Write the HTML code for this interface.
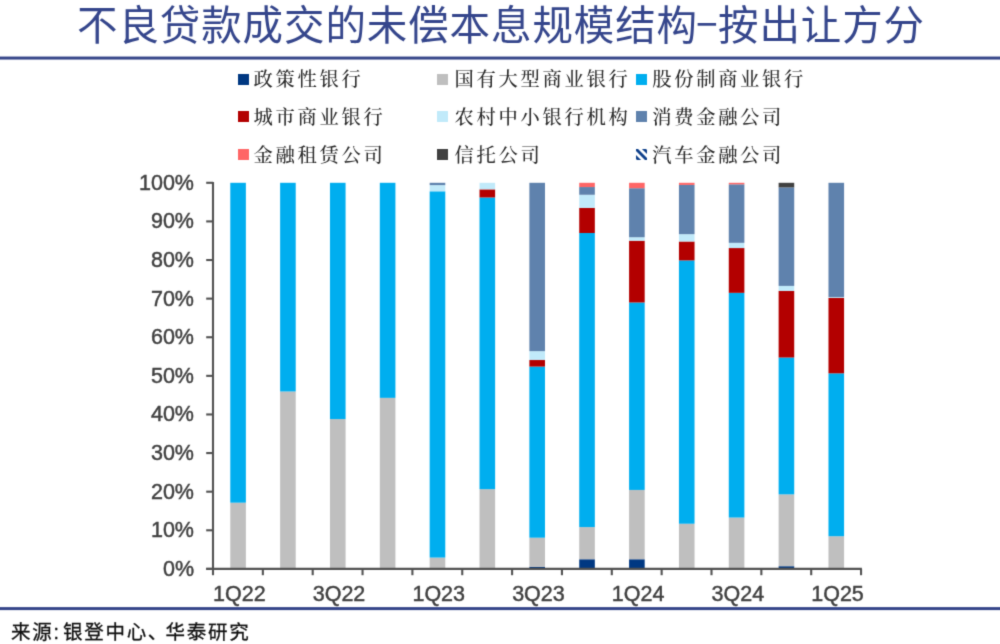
<!DOCTYPE html>
<html lang="zh-CN"><head><meta charset="utf-8"><title>不良贷款成交的未偿本息规模结构-按出让方分</title>
<style>
html,body{margin:0;padding:0;background:#fff;}
body{width:1000px;height:644px;position:relative;overflow:hidden;font-family:"Liberation Sans","Noto Sans CJK SC",sans-serif;}
#wrap{position:absolute;left:0;top:0;width:1000px;height:644px;filter:url(#soft);}
.title{position:absolute;left:0;top:-4.2px;width:1000px;height:60px;line-height:60px;text-align:center;white-space:nowrap;
 font-family:"Liberation Sans","Noto Sans CJK SC",sans-serif;font-weight:400;font-size:40.5px;color:#35468c;letter-spacing:0.9px;}
.dash{display:inline-block;width:20px;text-align:center;letter-spacing:0;font-family:"Liberation Sans",sans-serif;font-size:38px;position:relative;top:-2.6px;left:-2.2px;}
.sw{position:absolute;width:11px;height:11px;display:block;}
.lt{position:absolute;height:30px;line-height:30px;white-space:nowrap;font-family:"Liberation Serif","Noto Serif CJK SC",serif;font-weight:500;font-size:19.3px;letter-spacing:2.7px;color:#2b2b2b;}
.src{position:absolute;left:11px;top:616.6px;-webkit-text-stroke:0.3px #111;height:30px;line-height:30px;white-space:nowrap;font-family:"Liberation Sans","Noto Sans CJK SC",sans-serif;font-size:19.5px;letter-spacing:1.7px;color:#111;}
</style></head>
<body>
<div id="wrap">
<div class="title" style="padding-left:1px">不良贷款成交的未偿本息规模结构<span class="dash">−</span>按出让方分</div>
<svg width="1000" height="644" viewBox="0 0 1000 644" style="position:absolute;left:0;top:0;overflow:visible"><defs><filter id="soft" x="-2%" y="-2%" width="104%" height="104%" color-interpolation-filters="sRGB"><feConvolveMatrix order="3" kernelMatrix="0.01917 0.10012 0.01917 0.10012 0.52283 0.10012 0.01917 0.10012 0.01917" divisor="1" edgeMode="duplicate" preserveAlpha="false"/></filter></defs><rect x="-10" y="56.55" width="1020" height="3.0" fill="#36468a"/><rect x="-10" y="607.1" width="1020" height="3.0" fill="#36468a"/><rect x="230.28" y="502.68" width="15.6" height="66.22" fill="#bfbfbf"/><rect x="230.28" y="182.80" width="15.6" height="319.88" fill="#00aeef"/><rect x="280.12" y="391.49" width="15.6" height="177.41" fill="#bfbfbf"/><rect x="280.12" y="182.80" width="15.6" height="208.69" fill="#00aeef"/><rect x="329.97" y="419.09" width="15.6" height="149.81" fill="#bfbfbf"/><rect x="329.97" y="182.80" width="15.6" height="236.29" fill="#00aeef"/><rect x="379.82" y="397.86" width="15.6" height="171.04" fill="#bfbfbf"/><rect x="379.82" y="182.80" width="15.6" height="215.06" fill="#00aeef"/><rect x="429.68" y="557.59" width="15.6" height="11.31" fill="#bfbfbf"/><rect x="429.68" y="191.29" width="15.6" height="366.29" fill="#00aeef"/><rect x="429.68" y="185.12" width="15.6" height="6.18" fill="#c1eafa"/><rect x="429.68" y="182.80" width="15.6" height="2.32" fill="#5f82ad"/><rect x="479.52" y="489.17" width="15.6" height="79.73" fill="#bfbfbf"/><rect x="479.52" y="197.47" width="15.6" height="291.70" fill="#00aeef"/><rect x="479.52" y="189.36" width="15.6" height="8.11" fill="#b30000"/><rect x="479.52" y="182.80" width="15.6" height="6.56" fill="#c1eafa"/><rect x="529.38" y="566.78" width="15.6" height="2.12" fill="#003882"/><rect x="529.38" y="537.70" width="15.6" height="29.07" fill="#bfbfbf"/><rect x="529.38" y="366.58" width="15.6" height="171.12" fill="#00aeef"/><rect x="529.38" y="360.02" width="15.6" height="6.56" fill="#b30000"/><rect x="529.38" y="351.14" width="15.6" height="8.88" fill="#c1eafa"/><rect x="529.38" y="182.80" width="15.6" height="168.34" fill="#5f82ad"/><rect x="579.23" y="559.25" width="15.6" height="9.65" fill="#003882"/><rect x="579.23" y="527.09" width="15.6" height="32.16" fill="#bfbfbf"/><rect x="579.23" y="232.99" width="15.6" height="294.09" fill="#00aeef"/><rect x="579.23" y="207.90" width="15.6" height="25.10" fill="#b30000"/><rect x="579.23" y="194.77" width="15.6" height="13.13" fill="#c1eafa"/><rect x="579.23" y="187.05" width="15.6" height="7.72" fill="#5f82ad"/><rect x="579.23" y="182.80" width="15.6" height="4.25" fill="#ff6666"/><rect x="629.08" y="559.25" width="15.6" height="9.65" fill="#003882"/><rect x="629.08" y="489.94" width="15.6" height="69.30" fill="#bfbfbf"/><rect x="629.08" y="302.49" width="15.6" height="187.45" fill="#00aeef"/><rect x="629.08" y="240.71" width="15.6" height="61.78" fill="#b30000"/><rect x="629.08" y="237.24" width="15.6" height="3.47" fill="#c1eafa"/><rect x="629.08" y="188.21" width="15.6" height="49.03" fill="#5f82ad"/><rect x="629.08" y="182.80" width="15.6" height="5.41" fill="#ff6666"/><rect x="678.93" y="523.73" width="15.6" height="45.17" fill="#bfbfbf"/><rect x="678.93" y="260.41" width="15.6" height="263.32" fill="#00aeef"/><rect x="678.93" y="241.49" width="15.6" height="18.92" fill="#b30000"/><rect x="678.93" y="234.15" width="15.6" height="7.34" fill="#c1eafa"/><rect x="678.93" y="184.92" width="15.6" height="49.23" fill="#5f82ad"/><rect x="678.93" y="182.80" width="15.6" height="2.12" fill="#ff6666"/><rect x="728.78" y="517.55" width="15.6" height="51.35" fill="#bfbfbf"/><rect x="728.78" y="292.84" width="15.6" height="224.71" fill="#00aeef"/><rect x="728.78" y="248.05" width="15.6" height="44.79" fill="#b30000"/><rect x="728.78" y="242.84" width="15.6" height="5.21" fill="#c1eafa"/><rect x="728.78" y="184.34" width="15.6" height="58.49" fill="#5f82ad"/><rect x="728.78" y="182.80" width="15.6" height="1.54" fill="#ff6666"/><rect x="778.62" y="566.20" width="15.6" height="2.70" fill="#003882"/><rect x="778.62" y="494.38" width="15.6" height="71.81" fill="#bfbfbf"/><rect x="778.62" y="357.51" width="15.6" height="136.87" fill="#00aeef"/><rect x="778.62" y="290.91" width="15.6" height="66.60" fill="#b30000"/><rect x="778.62" y="285.89" width="15.6" height="5.02" fill="#c1eafa"/><rect x="778.62" y="187.43" width="15.6" height="98.46" fill="#5f82ad"/><rect x="778.62" y="182.80" width="15.6" height="4.63" fill="#404040"/><rect x="828.48" y="536.24" width="15.6" height="32.66" fill="#bfbfbf"/><rect x="828.48" y="373.34" width="15.6" height="162.90" fill="#00aeef"/><rect x="828.48" y="297.86" width="15.6" height="75.48" fill="#b30000"/><rect x="828.48" y="297.09" width="15.6" height="0.77" fill="#c1eafa"/><rect x="828.48" y="182.80" width="15.6" height="114.29" fill="#5f82ad"/><g stroke="#525252" stroke-width="2.1" fill="none"><line x1="213.0" y1="181.95000000000002" x2="213.0" y2="569.75"/><line x1="206.2" y1="568.9" x2="861.90" y2="568.9"/><line x1="206.2" y1="568.90" x2="213.0" y2="568.90"/><line x1="206.2" y1="530.29" x2="213.0" y2="530.29"/><line x1="206.2" y1="491.68" x2="213.0" y2="491.68"/><line x1="206.2" y1="453.07" x2="213.0" y2="453.07"/><line x1="206.2" y1="414.46" x2="213.0" y2="414.46"/><line x1="206.2" y1="375.85" x2="213.0" y2="375.85"/><line x1="206.2" y1="337.24" x2="213.0" y2="337.24"/><line x1="206.2" y1="298.63" x2="213.0" y2="298.63"/><line x1="206.2" y1="260.02" x2="213.0" y2="260.02"/><line x1="206.2" y1="221.41" x2="213.0" y2="221.41"/><line x1="206.2" y1="182.80" x2="213.0" y2="182.80"/><line x1="213.00" y1="568.9" x2="213.00" y2="575.1999999999999"/><line x1="262.85" y1="568.9" x2="262.85" y2="575.1999999999999"/><line x1="312.70" y1="568.9" x2="312.70" y2="575.1999999999999"/><line x1="362.55" y1="568.9" x2="362.55" y2="575.1999999999999"/><line x1="412.40" y1="568.9" x2="412.40" y2="575.1999999999999"/><line x1="462.25" y1="568.9" x2="462.25" y2="575.1999999999999"/><line x1="512.10" y1="568.9" x2="512.10" y2="575.1999999999999"/><line x1="561.95" y1="568.9" x2="561.95" y2="575.1999999999999"/><line x1="611.80" y1="568.9" x2="611.80" y2="575.1999999999999"/><line x1="661.65" y1="568.9" x2="661.65" y2="575.1999999999999"/><line x1="711.50" y1="568.9" x2="711.50" y2="575.1999999999999"/><line x1="761.35" y1="568.9" x2="761.35" y2="575.1999999999999"/><line x1="811.20" y1="568.9" x2="811.20" y2="575.1999999999999"/><line x1="861.05" y1="568.9" x2="861.05" y2="575.1999999999999"/></g><g font-family="Liberation Sans, Arial, sans-serif" font-size="21.5" fill="#404040" stroke="#404040" stroke-width="0.45"><text x="194.0" y="575.80" text-anchor="end">0%</text><text x="194.0" y="537.19" text-anchor="end">10%</text><text x="194.0" y="498.58" text-anchor="end">20%</text><text x="194.0" y="459.97" text-anchor="end">30%</text><text x="194.0" y="421.36" text-anchor="end">40%</text><text x="194.0" y="382.75" text-anchor="end">50%</text><text x="194.0" y="344.14" text-anchor="end">60%</text><text x="194.0" y="305.53" text-anchor="end">70%</text><text x="194.0" y="266.92" text-anchor="end">80%</text><text x="194.0" y="228.31" text-anchor="end">90%</text><text x="194.0" y="189.70" text-anchor="end">100%</text><text x="239.33" y="600.5" text-anchor="middle">1Q22</text><text x="339.02" y="600.5" text-anchor="middle">3Q22</text><text x="438.73" y="600.5" text-anchor="middle">1Q23</text><text x="538.43" y="600.5" text-anchor="middle">3Q23</text><text x="638.12" y="600.5" text-anchor="middle">1Q24</text><text x="737.83" y="600.5" text-anchor="middle">3Q24</text><text x="837.52" y="600.5" text-anchor="middle">1Q25</text></g></svg>
<span class="sw" style="left:238.0px;top:73.5px;background:#003882"></span><span class="lt" style="left:253.6px;top:65.1px">政策性银行</span><span class="sw" style="left:437.3px;top:73.5px;background:#bfbfbf"></span><span class="lt" style="left:454.6px;top:65.1px">国有大型商业银行</span><span class="sw" style="left:636.3px;top:73.5px;background:#00aeef"></span><span class="lt" style="left:652.2px;top:65.1px">股份制商业银行</span><span class="sw" style="left:238.0px;top:111.0px;background:#b30000"></span><span class="lt" style="left:253.6px;top:102.6px">城市商业银行</span><span class="sw" style="left:437.3px;top:111.0px;background:#c1eafa"></span><span class="lt" style="left:454.6px;top:102.6px">农村中小银行机构</span><span class="sw" style="left:636.3px;top:111.0px;background:#5f82ad"></span><span class="lt" style="left:652.2px;top:102.6px">消费金融公司</span><span class="sw" style="left:238.0px;top:149.0px;background:#ff6666"></span><span class="lt" style="left:253.6px;top:140.6px">金融租赁公司</span><span class="sw" style="left:437.3px;top:149.0px;background:#404040"></span><span class="lt" style="left:454.6px;top:140.6px">信托公司</span><svg class="sw" style="left:636.3px;top:149.0px" width="11" height="11" viewBox="0 0 11 11"><rect width="11" height="11" fill="#fff"/><g stroke="#0f408b" stroke-width="2.9"><line x1="-2" y1="-2" x2="13" y2="13"/><line x1="-2" y1="6" x2="13" y2="21"/><line x1="6" y1="-2" x2="21" y2="13"/></g></svg><span class="lt" style="left:652.2px;top:140.6px">汽车金融公司</span>
<div class="src">来源<span style="margin-right:2.5px">:</span>银登中心<span style="margin-right:-3.5px">、</span>华泰研究</div>
</div>
</body></html>
